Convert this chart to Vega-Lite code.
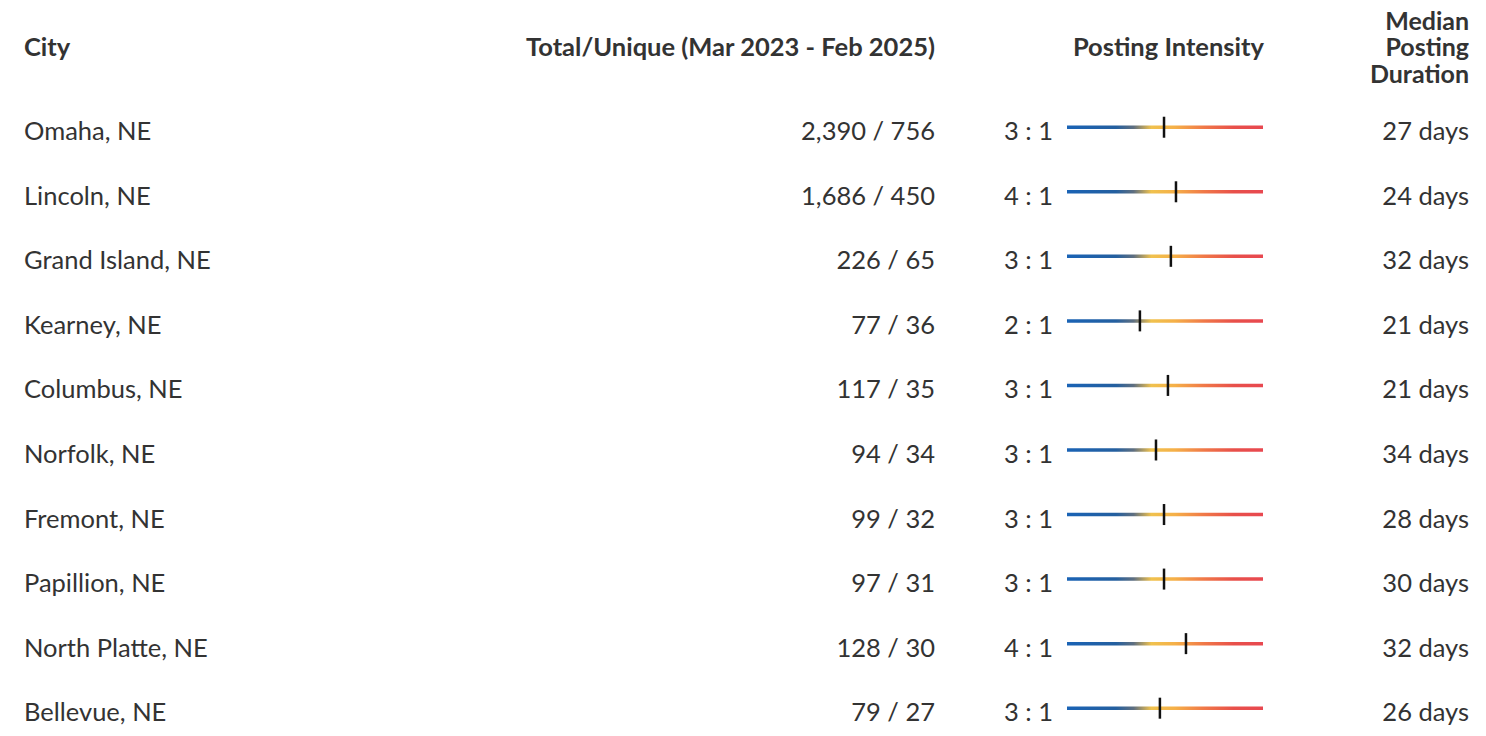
{
  "$schema": "https://vega.github.io/schema/vega-lite/v6.json",
  "width": 1486,
  "height": 736,
  "padding": 0,
  "autosize": {"type": "none"},
  "background": "white",
  "config": {"view": {"stroke": null}, "text": {"font": "Lato", "color": "#333333"}},
  "datasets": {
    "rows": [
      {"rank": 1, "City": "Omaha, NE", "total": 2390, "unique": 756, "ratio": 3, "intensity": 0.495, "duration": 27},
      {"rank": 2, "City": "Lincoln, NE", "total": 1686, "unique": 450, "ratio": 4, "intensity": 0.556, "duration": 24},
      {"rank": 3, "City": "Grand Island, NE", "total": 226, "unique": 65, "ratio": 3, "intensity": 0.53, "duration": 32},
      {"rank": 4, "City": "Kearney, NE", "total": 77, "unique": 36, "ratio": 2, "intensity": 0.372, "duration": 21},
      {"rank": 5, "City": "Columbus, NE", "total": 117, "unique": 35, "ratio": 3, "intensity": 0.515, "duration": 21},
      {"rank": 6, "City": "Norfolk, NE", "total": 94, "unique": 34, "ratio": 3, "intensity": 0.454, "duration": 34},
      {"rank": 7, "City": "Fremont, NE", "total": 99, "unique": 32, "ratio": 3, "intensity": 0.495, "duration": 28},
      {"rank": 8, "City": "Papillion, NE", "total": 97, "unique": 31, "ratio": 3, "intensity": 0.495, "duration": 30},
      {"rank": 9, "City": "North Platte, NE", "total": 128, "unique": 30, "ratio": 4, "intensity": 0.607, "duration": 32},
      {"rank": 10, "City": "Bellevue, NE", "total": 79, "unique": 27, "ratio": 3, "intensity": 0.474, "duration": 26}
    ],
    "headersLeft": [
      {"h": "City", "pos": 1.615, "row": -0.299}
    ],
    "headersRight": [
      {"h": "Total/Unique (Mar 2023 - Feb 2025)", "pos": 62.92, "row": -0.299},
      {"h": "Posting Intensity", "pos": 85.06, "row": -0.299}
    ]
  },
  "layer": [
    {
      "data": {"name": "rows"},
      "transform": [
        {"calculate": "format(datum.total, ',') + ' / ' + datum.unique", "as": "totalLabel"},
        {"calculate": "datum.ratio + ' : 1'", "as": "ratioLabel"},
        {"calculate": "datum.duration + ' days'", "as": "durationLabel"}
      ],
      "encoding": {
        "y": {"field": "rank", "type": "quantitative", "axis": null,
              "scale": {"domain": [-0.971, 10.276], "range": [0, 736], "zero": false, "nice": false}},
        "x": {"type": "quantitative", "axis": null, "scale": {"domain": [0, 100], "zero": false, "nice": false}}
      },
      "layer": [
        {"mark": {"type": "text", "align": "left", "baseline": "middle", "fontSize": 25.5},
         "encoding": {"x": {"datum": 1.615}, "text": {"field": "City"}}},
        {"mark": {"type": "text", "align": "right", "baseline": "middle", "fontSize": 25.5},
         "encoding": {"x": {"datum": 62.92}, "text": {"field": "totalLabel"}}},
        {"mark": {"type": "text", "align": "right", "baseline": "middle", "fontSize": 25.5},
         "encoding": {"x": {"datum": 70.86}, "text": {"field": "ratioLabel"}}},
        {"mark": {"type": "text", "align": "right", "baseline": "middle", "fontSize": 25.5},
         "encoding": {"x": {"datum": 98.86}, "text": {"field": "durationLabel"}}},
        {"data": {"name": "headersLeft"},
         "mark": {"type": "text", "align": "left", "baseline": "middle", "fontSize": 25.5, "fontWeight": "bold"},
         "encoding": {"x": {"field": "pos", "type": "quantitative"}, "y": {"field": "row", "type": "quantitative"}, "text": {"field": "h"}}},
        {"data": {"name": "headersRight"},
         "mark": {"type": "text", "align": "right", "baseline": "middle", "fontSize": 25.5, "fontWeight": "bold"},
         "encoding": {"x": {"field": "pos", "type": "quantitative"}, "y": {"field": "row", "type": "quantitative"}, "text": {"field": "h"}}},
        {"data": {"values": [{"h": "Median Posting Duration", "pos": 98.86, "row": -0.299}]},
         "mark": {"type": "text", "align": "right", "baseline": "middle", "fontSize": 25, "fontWeight": "bold", "lineHeight": 26.5, "dy": -26.5,
                  "text": ["Median", "Posting", "Duration"]},
         "encoding": {"x": {"field": "pos", "type": "quantitative"}, "y": {"field": "row", "type": "quantitative"}}}
      ],
      "resolve": {"scale": {"x": "shared", "y": "shared"}}
    },
    {
      "data": {"name": "rows"},
      "encoding": {
        "y": {"field": "rank", "type": "quantitative", "axis": null,
              "scale": {"domain": [-0.971, 10.276], "range": [0, 736], "zero": false, "nice": false}},
        "x": {"type": "quantitative", "axis": null, "scale": {"domain": [0, 1], "range": [1067, 1263], "zero": false, "nice": false}}
      },
      "layer": [
        {"mark": {"type": "bar", "height": 3.5, "yOffset": -5,
                  "fill": {"gradient": "linear", "x1": 0, "y1": 0, "x2": 1, "y2": 0,
                           "stops": [
                             {"offset": 0, "color": "#1a63b5"},
                             {"offset": 0.25, "color": "#245f9f"},
                             {"offset": 0.34, "color": "#5f6f80"},
                             {"offset": 0.43, "color": "#f0c24e"},
                             {"offset": 0.55, "color": "#f5b048"},
                             {"offset": 0.7, "color": "#f07848"},
                             {"offset": 0.85, "color": "#e8504a"},
                             {"offset": 1, "color": "#e84850"}
                           ]}},
         "encoding": {"x": {"datum": 0}, "x2": {"datum": 1}}},
        {"mark": {"type": "tick", "orient": "vertical", "size": 21, "thickness": 2.5, "color": "#111111", "opacity": 1, "yOffset": -5},
         "encoding": {"x": {"field": "intensity", "type": "quantitative"}}}
      ],
      "resolve": {"scale": {"x": "shared", "y": "shared"}}
    }
  ],
  "resolve": {"scale": {"x": "independent", "y": "shared"}}
}
